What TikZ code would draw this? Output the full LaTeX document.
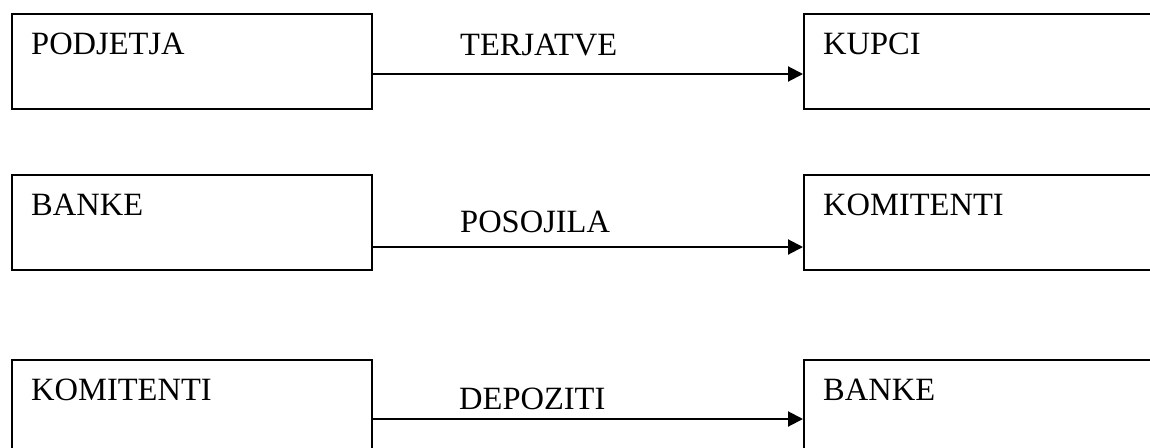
\documentclass[tikz,border=0pt]{standalone}
\usepackage{fontspec}
\setmainfont{Liberation Serif}
\usetikzlibrary{arrows.meta}
\begin{document}
\begin{tikzpicture}[x=1pt,y=1pt,
  box/.style={draw=black,line width=2pt,rectangle,minimum width=360pt,minimum height=95pt,anchor=north west,inner sep=0pt},
  rbox/.style={draw=black,line width=2pt,rectangle,minimum width=370pt,minimum height=95pt,anchor=north west,inner sep=0pt},
  txt/.style={anchor=base west,inner sep=0pt,font=\fontsize{32.5}{38}\selectfont},
  conn/.style={line width=2pt,-{Triangle[length=15pt,width=15pt]}}]
\useasboundingbox (0,0) rectangle (1150,-447);
% row 1
\node[box] (p1) at (11,-13) {};
\node[rbox] (k1) at (803,-13) {};
\node[txt] (tp1) at (31,-54) {PODJETJA};
\node[txt] (tk1) at (823,-54) {KUPCI};
\node[txt] (l1) at (460,-55) {TERJATVE};
\draw[conn] ([yshift=-12.5pt]p1.east) -- ([yshift=-12.5pt]k1.west);
% row 2
\node[box] (p2) at (11,-174) {};
\node[rbox] (k2) at (803,-174) {};
\node[txt] (tp2) at (31,-215) {BANKE};
\node[txt] (tk2) at (823,-215) {KOMITENTI};
\node[txt] (l2) at (460,-232) {POSOJILA};
\draw[conn] ([yshift=-24.5pt]p2.east) -- ([yshift=-24.5pt]k2.west);
% row 3
\node[box] (p3) at (11,-359) {};
\node[rbox] (k3) at (803,-359) {};
\node[txt] (tp3) at (31,-400) {KOMITENTI};
\node[txt] (tk3) at (823,-400) {BANKE};
\node[txt] (l3) at (459,-409) {DEPOZITI};
\draw[conn] ([yshift=-11.5pt]p3.east) -- ([yshift=-11.5pt]k3.west);
\end{tikzpicture}
\end{document}
